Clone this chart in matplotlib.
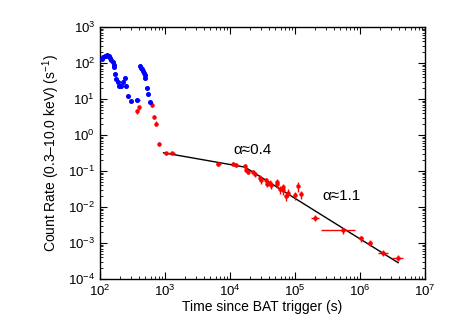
import matplotlib
matplotlib.use("Agg")
import matplotlib.pyplot as plt
from matplotlib.ticker import LogLocator, NullFormatter
import numpy as np

plt.rcParams['font.family'] = ['Liberation Sans', 'DejaVu Sans']
plt.rcParams['mathtext.fontset'] = 'custom'
plt.rcParams['mathtext.rm'] = 'Liberation Sans'
plt.rcParams['mathtext.it'] = 'Liberation Sans'

# ---- data: WT mode (blue) ----
wt_time = [107, 112, 118, 124, 130, 136, 143, 149, 156, 162, 166, 172, 178, 189, 198,
           210, 228, 239, 254, 272, 303, 374,
           416, 431, 446, 463, 479, 491, 501, 527, 552, 593]
wt_rate = [132, 144, 153, 160, 163, 153, 138, 124, 107, 90, 78, 48, 37, 30, 22.5,
           22.5, 30, 38.5, 23, 11.9, 8.6, 9.6,
           81, 73, 67, 61, 54, 45, 38.5, 20, 13.8, 8.1]
wt_terr_lo = [0, 0, 0, 0, 0, 0, 0, 0, 0, 0, 0, 0, 0, 0, 0,
              0, 0, 0, 0, 0, 0, 34,
              0, 0, 0, 0, 0, 0, 0, 0, 0, 0]
wt_terr_hi = [0, 0, 0, 0, 0, 0, 0, 0, 0, 0, 0, 0, 0, 0, 0,
              0, 0, 0, 0, 0, 0, 42,
              0, 0, 0, 0, 0, 0, 0, 0, 0, 0]

# ---- data: PC mode (red) ----
pc_time = [370, 392, 630, 666, 725, 814, 1040, 1300, 6640, 11300, 12300, 17100, 17500,
           18800, 22900, 24300, 29000, 29700, 35500, 36700, 41300, 42300, 52400, 53500,
           58900, 64700, 66100, 72800, 78900, 100000, 112000, 124000, 203000, 552000,
           1.02e6, 1.42e6, 2.27e6, 3.86e6]
pc_rate = [4.56, 6.0, 7.0, 3.18, 2.08, 0.569, 0.312, 0.312, 0.158, 0.158, 0.149, 0.136,
           0.110, 0.095, 0.095, 0.080, 0.0647, 0.0545, 0.0545, 0.0441, 0.0471, 0.0396,
           0.0501, 0.0423, 0.0307, 0.0356, 0.0288, 0.020, 0.0248, 0.0209, 0.0379, 0.0223,
           0.00503, 0.00223, 0.00134, 0.00102, 0.000538, 0.000391]
pc_terr_lo = [8, 8, 10, 10, 12, 15, 90, 120, 640, 600, 600, 700, 700,
              700, 900, 900, 1000, 1000, 1200, 1200, 1300, 1300, 1500, 1500,
              1600, 1700, 1700, 1900, 2000, 2500, 2800, 3000, 27000, 304000,
              80000, 120000, 370000, 700000]
pc_terr_hi = [8, 8, 10, 10, 12, 15, 110, 130, 660, 600, 600, 700, 700,
              700, 900, 900, 1000, 1000, 1200, 1200, 1300, 1300, 1500, 1500,
              1600, 1700, 1700, 1900, 2000, 2500, 2800, 3000, 31000, 283000,
              80000, 130000, 440000, 740000]
pc_rerr = [0.7, 0.9, 1.0, 0.45, 0.3, 0.08, 0.035, 0.035, 0.02, 0.02, 0.02, 0.018,
           0.018, 0.015, 0.015, 0.013, 0.011, 0.01, 0.01, 0.009, 0.009, 0.008,
           0.011, 0.009, 0.007, 0.008, 0.007, 0.005, 0.006, 0.005, 0.012, 0.006,
           0.0009, 0.0004, 0.00025, 0.0002, 0.0001, 0.00008]

# ---- broken power-law fit ----
fit_time = [950, 17000, 3.86e6]
fit_rate = [0.32, 0.128, 0.000284]

fig = plt.figure(figsize=(4.51, 3.32), dpi=100)
ax = fig.add_axes([0.2217, 0.1596, 0.7207, 0.7591])

ax.plot(fit_time, fit_rate, color='black', lw=1.0, zorder=1)

ax.errorbar(pc_time, pc_rate, xerr=[pc_terr_lo, pc_terr_hi], yerr=pc_rerr,
            fmt='o', color='red', ms=2.2, elinewidth=1.0, capsize=0, zorder=3)
ax.errorbar(wt_time, wt_rate, xerr=[wt_terr_lo, wt_terr_hi],
            fmt='o', color='blue', ms=2.6, elinewidth=1.0, capsize=0, zorder=3)

ax.set_xscale('log')
ax.set_yscale('log')
ax.set_xlim(1e2, 1e7)
ax.set_ylim(1e-4, 1e3)

ax.xaxis.set_major_locator(LogLocator(base=10, numticks=20))
ax.yaxis.set_major_locator(LogLocator(base=10, numticks=20))
ax.xaxis.set_minor_locator(LogLocator(base=10, subs=np.arange(2, 10), numticks=20))
ax.yaxis.set_minor_locator(LogLocator(base=10, subs=np.arange(2, 10), numticks=20))
ax.xaxis.set_minor_formatter(NullFormatter())
ax.yaxis.set_minor_formatter(NullFormatter())

ax.tick_params(which='both', direction='in', top=True, right=True, labelsize=9.5)
ax.tick_params(which='major', length=5, width=0.8)
ax.tick_params(which='minor', length=2.5, width=0.6)
for s in ax.spines.values():
    s.set_linewidth(1.0)

ax.set_xlabel('Time since BAT trigger (s)', fontsize=10, labelpad=1)
ax.set_ylabel('Count Rate (0.3\u201310.0 keV) (s$^{-1}$)', fontsize=10, labelpad=4)

ax.text(2.18e4, 0.39, '\u03b1\u22480.4', fontsize=11, ha='center', va='center')
ax.text(5.1e5, 0.0196, '\u03b1\u22481.1', fontsize=11, ha='center', va='center')

fig.savefig('out.png', dpi=100)
